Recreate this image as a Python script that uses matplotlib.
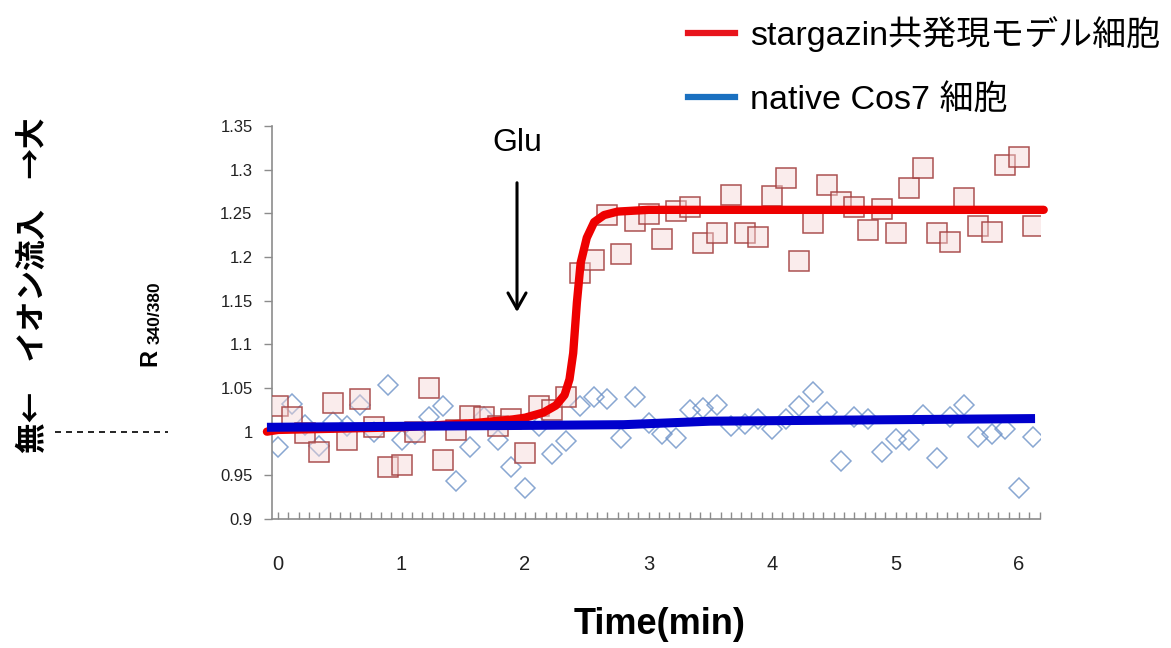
import matplotlib
matplotlib.use("Agg")
import matplotlib.pyplot as plt
import matplotlib.transforms as mtransforms
from matplotlib.lines import Line2D
from matplotlib.ticker import MultipleLocator

# sampling times (min)
time_min = [0.000, 0.111, 0.222, 0.333, 0.444, 0.556, 0.667, 0.778, 0.889, 1.000,
            1.111, 1.222, 1.333, 1.444, 1.556, 1.667, 1.778, 1.889, 2.000,
            2.111, 2.222, 2.333, 2.444, 2.556, 2.667, 2.778, 2.889, 3.000,
            3.111, 3.222, 3.333, 3.444, 3.556, 3.667, 3.778, 3.889, 4.000,
            4.111, 4.222, 4.333, 4.444, 4.556, 4.667, 4.778, 4.889, 5.000,
            5.111, 5.222, 5.333, 5.444, 5.556, 5.667, 5.778, 5.889, 6.000,
            6.111]

# stargazin co-expressing cells (squares)
stg_ratio = [1.029, 1.017, 0.999, 0.977, 1.033, 0.991, 1.037, 1.005, 0.960, 0.962,
             1.000, 1.050, 0.968, 1.002, 1.018, 1.017, 1.006, 1.014, 0.976,
             1.029, 1.025, 1.040, 1.182, 1.197, 1.248, 1.203, 1.241, 1.249,
             1.221, 1.253, 1.257, 1.216, 1.228, 1.271, 1.228, 1.223, 1.270,
             1.291, 1.195, 1.239, 1.283, 1.263, 1.257, 1.231, 1.255, 1.228,
             1.279, 1.302, 1.228, 1.217, 1.268, 1.235, 1.229, 1.305, 1.314,
             1.235]

# native Cos7 cells (diamonds)
cos7_ratio = [0.983, 1.032, 1.008, 0.984, 1.011, 1.006, 1.031, 1.000, 1.054, 0.991,
              0.997, 1.017, 1.029, 0.943, 0.982, 1.017, 0.991, 0.960, 0.936,
              1.006, 0.974, 0.989, 1.029, 1.040, 1.037, 0.993, 1.040, 1.010,
              0.997, 0.993, 1.025, 1.027, 1.031, 1.007, 1.009, 1.014, 1.003,
              1.015, 1.029, 1.045, 1.022, 0.966, 1.017, 1.014, 0.977, 0.992,
              0.991, 1.019, 0.970, 1.017, 1.031, 0.994, 0.997, 1.003, 0.936,
              0.994]

# fitted curves
fit_t_red = [-0.09, 0.0, 1.0, 1.6, 1.9, 2.0, 2.15, 2.25, 2.32, 2.36, 2.39, 2.42,
             2.45, 2.50, 2.56, 2.64, 2.75, 3.0, 6.2]
fit_red = [1.000, 1.002, 1.005, 1.010, 1.014, 1.016, 1.022, 1.030, 1.042, 1.060,
           1.090, 1.148, 1.193, 1.222, 1.240, 1.248, 1.252, 1.254, 1.254]
fit_t_blue = [-0.09, 2.8, 3.5, 6.13]
fit_blue = [1.005, 1.008, 1.012, 1.015]

y_ticks = [0.9, 0.95, 1.0, 1.05, 1.1, 1.15, 1.2, 1.25, 1.3, 1.35]
y_tick_labels = ['0.9', '0.95', '1', '1.05', '1.1', '1.15', '1.2', '1.25', '1.3', '1.35']
x_ticks = [0, 1, 2, 3, 4, 5, 6]
legend_labels = ['stargazin共発現モデル細胞', 'native Cos7 細胞']

W, H = 1171, 648
plt.rcParams['font.family'] = ['Liberation Sans', 'Noto Sans CJK JP', 'DejaVu Sans']

fig = plt.figure(figsize=(W / 100, H / 100), dpi=100)
ax = fig.add_axes([272 / W, 1 - 519 / H, (1040 - 272) / W, (519 - 126) / H])
ax.set_xlim(-0.049, 6.17)
ax.set_ylim(0.9, 1.35)

ax.plot(time_min, cos7_ratio, ls='none', marker='D', ms=10.5,
        mfc='none', mec=(0.42, 0.57, 0.78, 0.8), mew=1.1, zorder=2)
ax.plot(time_min, stg_ratio, ls='none', marker='s', ms=15,
        mfc=(0.96, 0.84, 0.84, 0.45), mec=(0.64, 0.25, 0.25, 0.9), mew=1.1, zorder=3)
ax.plot(fit_t_red, fit_red, color='#ee0000', lw=6, solid_capstyle='round',
        zorder=4, clip_on=False)
ax.plot(fit_t_blue, fit_blue, color='#0000cc', lw=6.5, solid_capstyle='butt',
        zorder=5, clip_on=False)

for s in ['top', 'right']:
    ax.spines[s].set_visible(False)
for s in ['left', 'bottom']:
    ax.spines[s].set_color('#8c8c8c')
    ax.spines[s].set_linewidth(1.2)

ax.set_yticks(y_ticks)
ax.set_yticklabels(y_tick_labels)
ax.tick_params(axis='y', direction='out', length=6, width=1, color='#8c8c8c',
               pad=8, labelsize=12, labelcolor='#222222')
ax.set_xticks(x_ticks)
ax.xaxis.set_minor_locator(MultipleLocator(1 / 12))
ax.tick_params(axis='x', which='both', direction='in', length=5, width=1,
               color='#8c8c8c', pad=26, labelsize=14.5, labelcolor='#222222')

# Glu arrow
ax.text(1.935, 1.331, 'Glu', ha='center', va='center', fontsize=23)
ax.annotate('', xy=(1.935, 1.137), xytext=(1.935, 1.285),
            arrowprops=dict(arrowstyle='->,head_length=1.15,head_width=0.65',
                            color='black', lw=2.2, shrinkA=0, shrinkB=0,
                            mutation_scale=10))

# baseline dashed marker on the left
trans = mtransforms.blended_transform_factory(fig.transFigure, ax.transData)
ax.plot([55 / W, 168 / W], [1.0, 1.0], transform=trans, color='black',
        ls=(0, (3.6, 3)), lw=1.2, clip_on=False)

# axis titles
fig.text(660 / W, 1 - 624 / H, 'Time(min)', ha='center', va='center',
         fontsize=26, fontweight='bold')
fig.text(150 / W, 1 - 358 / H, 'R', rotation=90, ha='center', va='center',
         fontsize=17, fontweight='bold')
fig.text(155 / W, 1 - 313 / H, '340/380', rotation=90, ha='center', va='center',
         fontsize=12.5, fontweight='bold')
fig.text(33 / W, 1 - 285 / H, '無←\u3000イオン流入\u3000→大', rotation=90,
         ha='center', va='center', fontsize=22, fontweight='bold',
         family=['Noto Sans CJK JP', 'DejaVu Sans'])

handles = [Line2D([], [], color='#e8141c', lw=4.5),
           Line2D([], [], color='#1a70c0', lw=4.5)]
fig.legend(handles, legend_labels, loc='center left',
           bbox_to_anchor=(688 / W, 1 - 66 / H), frameon=False, fontsize=24.5,
           handlelength=1.38, handletextpad=0.45, labelspacing=0.95,
           borderpad=0, borderaxespad=0)

fig.savefig('out.png', dpi=100)
